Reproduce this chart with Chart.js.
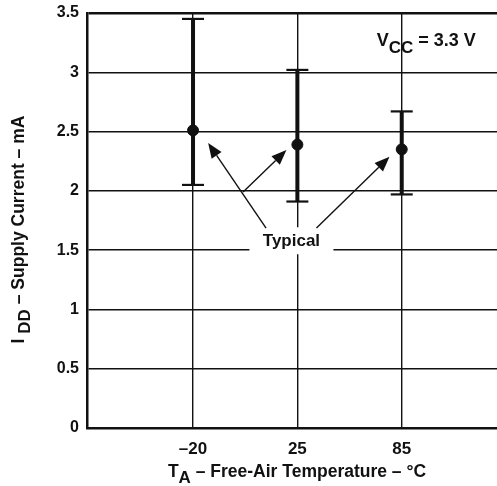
<!DOCTYPE html>
<html>
<head>
<meta charset="utf-8">
<script src="https://cdn.jsdelivr.net/npm/chart.js@4.4.0/dist/chart.umd.min.js"></script>
<style>
  html, body { margin: 0; padding: 0; background: #fff; overflow: hidden; }
  #wrap { width: 497px; height: 486px; }
</style>
</head>
<body>
<div id="wrap"><canvas id="myChart"></canvas></div>
<script>
// values
const temps = ['\u201320', '25', '85'];
const typical = [2.51, 2.39, 2.35];
const maxVals = [3.45, 3.02, 2.67];
const minVals = [2.05, 1.91, 1.97];

// annotation arrows, in data units (x = category slot, y = mA)
const arrowFrom = [[1.70, 1.686], [1.48, 1.99], [2.183, 1.686]];
const arrowTo = [[1.145, 2.403], [1.895, 2.344], [2.883, 2.288]];
const typicalLabel = [1.943, 1.575];
const vccLabel = [3.71, 3.22];

const FONT = '"Liberation Sans", Arial, Helvetica, sans-serif';
const INK = '#111';

const barSets = temps.map((t, i) => ({
  type: 'line',
  data: [{x: i + 1, y: minVals[i]}, {x: i + 1, y: maxVals[i]}],
  borderColor: INK,
  borderWidth: 4,
  pointRadius: 0,
  order: 3
}));

const capSet = {
  type: 'scatter',
  data: temps.flatMap((t, i) => [{x: i + 1, y: minVals[i]}, {x: i + 1, y: maxVals[i]}]),
  pointStyle: 'line',
  pointRadius: 11,
  borderWidth: 2.2,
  borderColor: INK,
  order: 2
};

const dotSet = {
  type: 'scatter',
  data: temps.map((t, i) => ({x: i + 1, y: typical[i]})),
  pointRadius: 5.5,
  backgroundColor: INK,
  borderColor: INK,
  order: 1
};

function drawRich(ctx, parts, x, y, size, align) {
  const subFont = 'bold ' + Math.round(size * 0.95) + 'px ' + FONT;
  let total = 0;
  parts.forEach(p => {
    ctx.font = p.sub ? subFont : 'bold ' + size + 'px ' + FONT;
    total += ctx.measureText(p.t).width;
  });
  let cx = align === 'center' ? x - total / 2 : align === 'right' ? x - total : x;
  ctx.textAlign = 'left';
  ctx.textBaseline = 'alphabetic';
  parts.forEach(p => {
    ctx.font = p.sub ? subFont : 'bold ' + size + 'px ' + FONT;
    ctx.fillText(p.t, cx, p.sub ? y + size * 0.35 : y);
    cx += ctx.measureText(p.t).width;
  });
}

const notes = {
  id: 'notes',
  afterDatasetsDraw(chart) {
    const {ctx, scales: {x, y}} = chart;
    ctx.save();
    ctx.fillStyle = INK;
    ctx.strokeStyle = INK;

    // white box behind "Typical"
    const tx = x.getPixelForValue(typicalLabel[0]);
    const ty = y.getPixelForValue(typicalLabel[1]);
    ctx.fillStyle = '#fff';
    ctx.fillRect(tx - 42, ty - 14, 84, 27);
    ctx.fillStyle = INK;
    ctx.font = 'bold 17px ' + FONT;
    ctx.textAlign = 'center';
    ctx.textBaseline = 'middle';
    ctx.fillText('Typical', tx, ty);

    // arrows
    arrowFrom.forEach((f, i) => {
      const x0 = x.getPixelForValue(f[0]), y0 = y.getPixelForValue(f[1]);
      const x1 = x.getPixelForValue(arrowTo[i][0]), y1 = y.getPixelForValue(arrowTo[i][1]);
      const a = Math.atan2(y1 - y0, x1 - x0);
      const len = 15, half = 6;
      ctx.lineWidth = 1.4;
      ctx.beginPath();
      ctx.moveTo(x0, y0);
      ctx.lineTo(x1 - Math.cos(a) * len, y1 - Math.sin(a) * len);
      ctx.stroke();
      ctx.beginPath();
      ctx.moveTo(x1, y1);
      ctx.lineTo(x1 - Math.cos(a) * len - Math.sin(a) * half, y1 - Math.sin(a) * len + Math.cos(a) * half);
      ctx.lineTo(x1 - Math.cos(a) * len + Math.sin(a) * half, y1 - Math.sin(a) * len - Math.cos(a) * half);
      ctx.closePath();
      ctx.fill();
    });

    // V_CC note
    drawRich(ctx, [{t: 'V'}, {t: 'CC', sub: true}, {t: ' = 3.3 V'}],
      x.getPixelForValue(vccLabel[0]), y.getPixelForValue(vccLabel[1]), 18, 'right');
    ctx.restore();
  },
  afterDraw(chart) {
    const {ctx, chartArea} = chart;
    ctx.save();
    ctx.fillStyle = INK;
    // x title
    drawRich(ctx, [{t: 'T'}, {t: 'A', sub: true}, {t: ' \u2013 Free-Air Temperature \u2013 \u00b0C'}],
      297, 477, 17.5, 'center');
    // y title
    ctx.translate(24, (chartArea.top + chartArea.bottom) / 2 + 9);
    ctx.rotate(-Math.PI / 2);
    drawRich(ctx, [{t: 'I '}, {t: 'DD', sub: true}, {t: ' \u2013 Supply Current \u2013 mA'}],
      0, 0, 17.5, 'center');
    ctx.restore();
  }
};

new Chart(document.getElementById('myChart'), {
  data: {datasets: [...barSets, capSet, dotSet]},
  options: {
    responsive: true,
    maintainAspectRatio: false,
    animation: false,
    layout: {autoPadding: false, padding: {top: 13, left: 0, right: 0, bottom: 0}},
    plugins: {legend: {display: false}, tooltip: {enabled: false}},
    scales: {
      x: {
        type: 'linear',
        min: -0.016,
        max: 3.913,
        afterBuildTicks: s => { s.ticks = temps.map((t, i) => ({value: i + 1})); },
        afterFit: s => { s.height = 58; s.paddingLeft = 0; s.paddingRight = 0; },
        ticks: {
          color: INK,
          font: {family: FONT, size: 17, weight: 'bold'},
          padding: 11,
          maxRotation: 0,
          callback: v => temps[v - 1]
        },
        grid: {color: INK, lineWidth: 1.4, drawTicks: false},
        border: {color: INK, width: 2.5}
      },
      y: {
        min: 0,
        max: 3.5,
        afterFit: s => { s.width = 87; s.paddingTop = 0; s.paddingBottom = 0; },
        ticks: {
          stepSize: 0.5,
          color: INK,
          font: {family: FONT, size: 16, weight: 'bold'},
          padding: 8,
          callback: v => String(v)
        },
        grid: {
          color: INK,
          drawTicks: false,
          lineWidth: c => (c.tick && c.tick.value === 3.5 ? 2.5 : 1.4)
        },
        border: {color: INK, width: 2.5}
      }
    }
  },
  plugins: [notes]
});
</script>
</body>
</html>
